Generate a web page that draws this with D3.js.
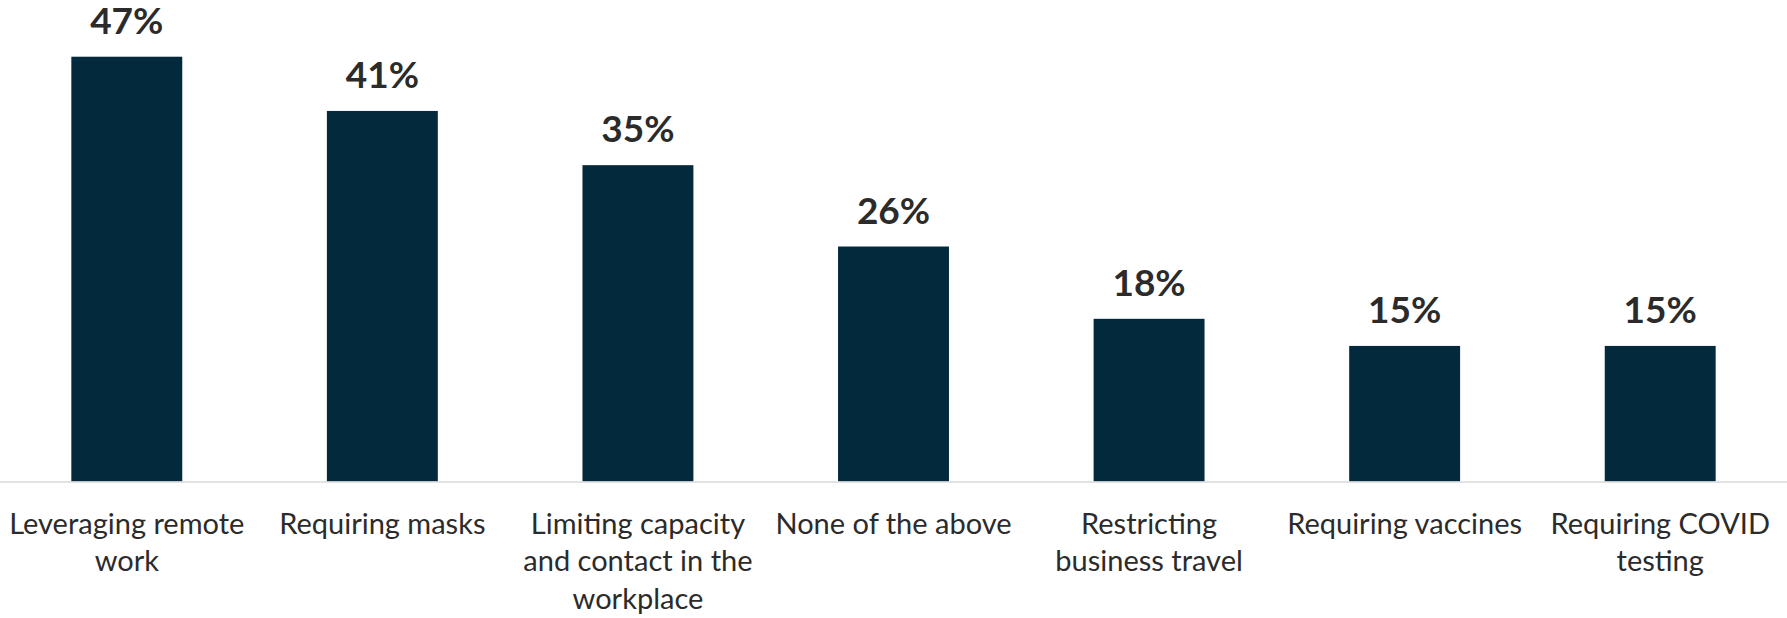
<!DOCTYPE html>
<html>
<head>
<meta charset="utf-8">
<script src="https://cdn.jsdelivr.net/npm/d3@7"></script>
<style>
  html, body { margin: 0; padding: 0; background: #ffffff; }
  svg { display: block; }
</style>
</head>
<body>
<svg id="chart" width="1787" height="618"></svg>
<script>
// Workplace COVID measures: share of respondents per measure
const categories = [
  "Leveraging remote work",
  "Requiring masks",
  "Limiting capacity and contact in the workplace",
  "None of the above",
  "Restricting business travel",
  "Requiring vaccines",
  "Requiring COVID testing"
];
const categoryLines = [
  ["Leveraging remote", "work"],
  ["Requiring masks"],
  ["Limiting capacity", "and contact in the", "workplace"],
  ["None of the above"],
  ["Restricting", "business travel"],
  ["Requiring vaccines"],
  ["Requiring COVID", "testing"]
];
const values = [47, 41, 35, 26, 18, 15, 15];
const valueLabels = ["47%", "41%", "35%", "26%", "18%", "15%", "15%"];

const W = 1787, H = 618;
const baseY = 481.5;
const svg = d3.select("#chart");

const x = d3.scaleBand()
  .domain(categories)
  .range([-1, 1788])
  .paddingInner(0.566)
  .paddingOuter(0.283);

const y = d3.scaleLinear()
  .domain([0, 50])
  .range([baseY, 29.6]);

const barColor = "#03293d";
const textColor = "#2b2b2b";
const font = "Lato, 'Open Sans', sans-serif";

// bars
svg.append("g")
  .selectAll("rect")
  .data(categories)
  .join("rect")
  .attr("x", d => x(d))
  .attr("width", x.bandwidth())
  .attr("y", (d, i) => y(values[i]))
  .attr("height", (d, i) => baseY - y(values[i]))
  .attr("fill", barColor);

// value labels above bars
svg.append("g")
  .selectAll("text")
  .data(categories)
  .join("text")
  .attr("x", d => x(d) + x.bandwidth() / 2)
  .attr("y", (d, i) => y(values[i]) - 23)
  .attr("text-anchor", "middle")
  .attr("font-family", font)
  .attr("font-weight", 700)
  .attr("font-size", 37)
  .attr("fill", textColor)
  .text((d, i) => valueLabels[i]);

// category axis
const axis = svg.append("g")
  .attr("transform", `translate(0,${baseY})`)
  .call(d3.axisBottom(x).tickSize(0).tickSizeOuter(0).tickPadding(0));

axis.select(".domain")
  .attr("stroke", "#d9d9d9")
  .attr("stroke-width", 1.5);

axis.selectAll(".tick text").each(function(d) {
  const i = categories.indexOf(d);
  const t = d3.select(this)
    .text(null)
    .attr("y", 0)
    .attr("dy", null)
    .attr("font-family", font)
    .attr("font-size", 29)
    .attr("fill", textColor);
  categoryLines[i].forEach((line, k) => {
    t.append("tspan")
      .attr("x", 0)
      .attr("y", 52 + k * 37.5)
      .text(line);
  });
});
</script>
</body>
</html>
